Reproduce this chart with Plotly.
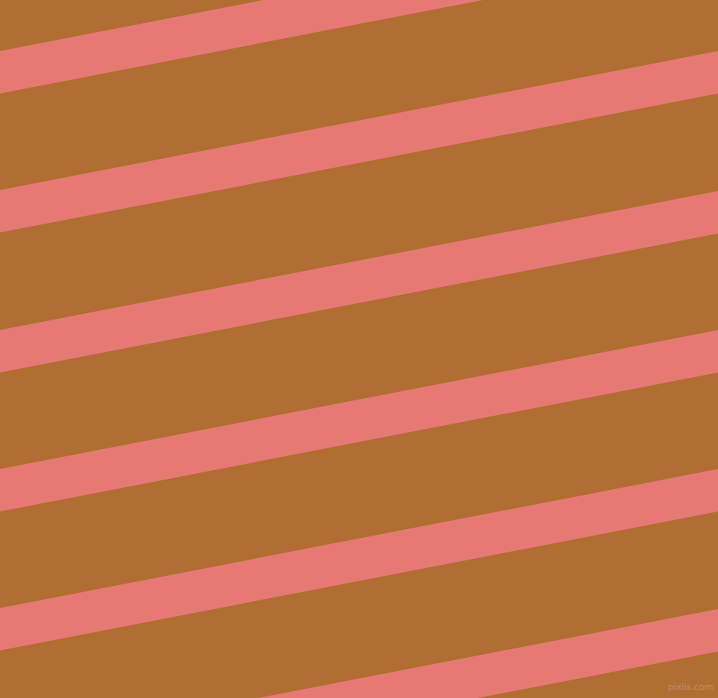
"""Diagonal stripe pattern
"""
import plotly.graph_objects as go

# picture size in pixels, used as the axis ranges
WIDTH = 718
HEIGHT = 698

# y where the top edge of each stripe meets the left border
stripe_tops = [-88, 51, 190, 330, 469, 608, 748]
# how far each stripe rises between the left and right border
stripe_rise = 139
# vertical thickness of a stripe
stripe_thickness = 42.5

background = '#B06E33'
stripe_color = '#E77975'

fig = go.Figure()

for top in stripe_tops:
    xs = [0, WIDTH, WIDTH, 0, 0]
    ys = [top, top - stripe_rise, top - stripe_rise + stripe_thickness,
          top + stripe_thickness, top]
    fig.add_trace(go.Scatter(
        x=xs, y=ys,
        mode='lines',
        fill='toself',
        fillcolor=stripe_color,
        line=dict(width=0, color=stripe_color),
        hoverinfo='skip',
        showlegend=False
    ))

fig.add_annotation(
    text='pixlis.com',
    xref='paper', yref='paper',
    x=1, y=0, xanchor='right', yanchor='bottom',
    xshift=-3, yshift=4,
    showarrow=False,
    font=dict(family='DejaVu Sans', size=9, color='#C98966')
)

fig.update_xaxes(range=[0, WIDTH], visible=False, fixedrange=True)
fig.update_yaxes(range=[HEIGHT, 0], visible=False, fixedrange=True)
fig.update_layout(
    width=WIDTH, height=HEIGHT,
    margin=dict(t=0, l=0, r=0, b=0),
    paper_bgcolor=background,
    plot_bgcolor=background
)

# the page's default body margin would shift the figure, so drop it
fig.write_html('out.html', config={'displayModeBar': False},
               post_script="document.body.style.margin='0';"
                           "document.body.style.overflow='hidden';")
